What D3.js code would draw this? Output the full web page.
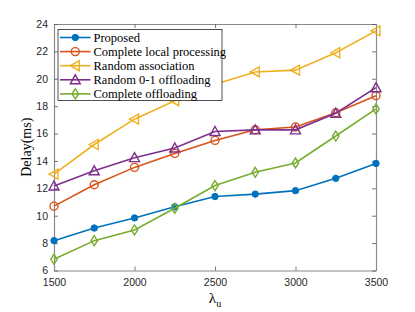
<!DOCTYPE html>
<html><head><meta charset="utf-8">
<script src="https://cdn.jsdelivr.net/npm/d3@7"></script>
<style>body{margin:0;background:#fff}svg{display:block}</style>
</head><body>
<svg id="c" width="415" height="312"></svg>
<script>
const xValues = [1500,1750,2000,2250,2500,2750,3000,3250,3500];
const proposed = [8.18,9.1,9.84,10.65,11.4,11.58,11.83,12.73,13.82];
const localProc = [10.7,12.26,13.53,14.55,15.5,16.28,16.48,17.52,18.76];
const randomAssoc = [13.04,15.2,17.05,18.4,19.6,20.5,20.63,21.9,23.5];
const random01 = [12.17,13.28,14.24,14.95,16.15,16.27,16.27,17.48,19.35];
const offloading = [6.82,8.18,8.96,10.55,12.2,13.17,13.85,15.82,17.8];
const seriesNames = ["Proposed","Complete local processing","Random association","Random 0-1 offloading","Complete offloading"];
const xTicks = [1500,2000,2500,3000,3500];
const yTicks = [6,8,10,12,14,16,18,20,22,24];

const series = [
  {name:seriesNames[0], vals:proposed, color:"#0072BD", marker:"dot"},
  {name:seriesNames[1], vals:localProc, color:"#D95319", marker:"circle"},
  {name:seriesNames[2], vals:randomAssoc, color:"#EDB120", marker:"left"},
  {name:seriesNames[3], vals:random01, color:"#7E2F8E", marker:"up"},
  {name:seriesNames[4], vals:offloading, color:"#77AC30", marker:"diamond"}
];

const svg = d3.select("#c");
const L=54, R=376, T=24, B=270.5;
const x = d3.scaleLinear().domain([1500,3500]).range([L,R]);
const y = d3.scaleLinear().domain([6,24]).range([B,T]);
const axisColor = "#8a8a8a";

// axes
const gx = svg.append("g").attr("transform",`translate(0,${B})`)
  .call(d3.axisBottom(x).tickValues(xTicks).tickFormat(d3.format("d")).tickSizeInner(-4).tickSizeOuter(0).tickPadding(8));
const gxt = svg.append("g").attr("transform",`translate(0,${T})`)
  .call(d3.axisTop(x).tickValues(xTicks).tickSizeInner(-4).tickSizeOuter(0).tickFormat(""));
const gy = svg.append("g").attr("transform",`translate(${L},0)`)
  .call(d3.axisLeft(y).tickValues(yTicks).tickFormat(d3.format("d")).tickSizeInner(-4).tickSizeOuter(0).tickPadding(6));
const gyr = svg.append("g").attr("transform",`translate(${R},0)`)
  .call(d3.axisRight(y).tickValues(yTicks).tickSizeInner(-4).tickSizeOuter(0).tickFormat(""));
[gx,gxt,gy,gyr].forEach(g=>{
  g.select(".domain").attr("stroke",axisColor).attr("stroke-width",1.2);
  g.selectAll(".tick line").attr("stroke","#555").attr("stroke-width",0.8);
  g.selectAll("text").attr("fill","#262626").attr("font-family","Liberation Sans, Arial, sans-serif").attr("font-size",10.5);
});

const line = d3.line().x((d,i)=>x(xValues[i])).y(d=>y(d));

function drawMarker(g, type, cx, cy, color){
  if(type==="dot"){
    g.append("circle").attr("cx",cx).attr("cy",cy).attr("r",3.2).attr("fill",color).attr("stroke",color);
  } else if(type==="circle"){
    g.append("circle").attr("cx",cx).attr("cy",cy).attr("r",4).attr("fill","none").attr("stroke",color).attr("stroke-width",1.4);
  } else if(type==="left"){
    const s=5;
    g.append("path").attr("d",`M${cx-s},${cy}L${cx+s*0.8},${cy-s}L${cx+s*0.8},${cy+s}Z`).attr("fill","none").attr("stroke",color).attr("stroke-width",1.4);
  } else if(type==="up"){
    const s=5;
    g.append("path").attr("d",`M${cx},${cy-s}L${cx+s},${cy+s*0.8}L${cx-s},${cy+s*0.8}Z`).attr("fill","none").attr("stroke",color).attr("stroke-width",1.4);
  } else if(type==="diamond"){
    const s=5;
    g.append("path").attr("d",`M${cx},${cy-s}L${cx+s*0.65},${cy}L${cx},${cy+s}L${cx-s*0.65},${cy}Z`).attr("fill","none").attr("stroke",color).attr("stroke-width",1.4);
  }
}

series.forEach(s=>{
  const g = svg.append("g");
  g.append("path").datum(s.vals).attr("d",line).attr("fill","none").attr("stroke",s.color).attr("stroke-width",1.6);
  s.vals.forEach((v,i)=>drawMarker(g,s.marker,x(xValues[i]),y(v),s.color));
});

// legend
const lg = svg.append("g");
lg.append("rect").attr("x",58).attr("y",29.5).attr("width",164).attr("height",71)
  .attr("fill","#fff").attr("stroke","#262626").attr("stroke-width",0.8);
series.forEach((s,i)=>{
  const yy = 37.5 + i*14.1;
  lg.append("line").attr("x1",60).attr("x2",90.5).attr("y1",yy).attr("y2",yy).attr("stroke",s.color).attr("stroke-width",1.6);
  drawMarker(lg,s.marker,75.3,yy,s.color);
  lg.append("text").attr("x",93.5).attr("y",yy+4.2).text(s.name)
    .attr("font-family","Liberation Serif, Times New Roman, serif").attr("font-size",12.5).attr("fill","#000");
});

// labels
svg.append("text").attr("transform",`translate(31,${(T+B)/2}) rotate(-90)`).attr("text-anchor","middle")
  .attr("font-family","Liberation Serif, Times New Roman, serif").attr("font-size",14).attr("fill","#000").text("Delay(ms)");
const xl = svg.append("text").attr("x",215).attr("y",303).attr("text-anchor","middle")
  .attr("font-family","Liberation Serif, Times New Roman, serif").attr("font-size",15).attr("fill","#000");
xl.append("tspan").text("λ");
xl.append("tspan").attr("font-size",10).attr("dy",4).text("u");
</script>
</body></html>
